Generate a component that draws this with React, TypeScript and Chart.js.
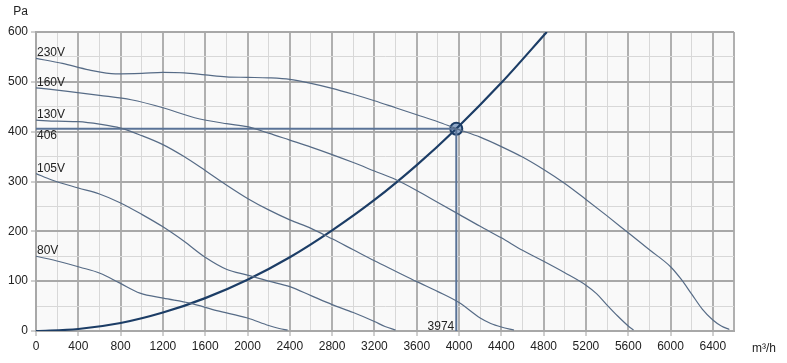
import { useEffect, useRef } from 'react';
import { Chart, registerables } from 'chart.js';

Chart.register(...registerables);

// ---- data ----
const flowTicks = [0, 400, 800, 1200, 1600, 2000, 2400, 2800, 3200, 3600, 4000, 4400, 4800, 5200, 5600, 6000, 6400];
const pressureTicks = [0, 100, 200, 300, 400, 500, 600];

const curveNames = ['230V', '160V', '130V', '105V', '80V'];

const q230 = [0, 250, 500, 750, 1000, 1200, 1400, 1600, 1800, 2000, 2200, 2400, 2600, 2800, 3000, 3200, 3400, 3600, 3800, 3974, 4200, 4400, 4600, 4800, 5000, 5200, 5400, 5600, 5800, 6000, 6100, 6200, 6300, 6400, 6480, 6556];
const p230 = [547, 537, 524, 516, 517, 519, 518, 514, 510, 509, 508, 505, 497, 487, 475, 462, 448, 434, 420, 406, 389, 370, 349, 324, 296, 264, 231, 197, 163, 129, 104, 74, 44, 22, 10, 3];

const q160 = [0, 300, 600, 900, 1200, 1500, 1800, 2000, 2200, 2400, 2600, 2800, 3000, 3200, 3400, 3600, 3800, 4000, 4200, 4400, 4600, 4800, 5000, 5200, 5300, 5400, 5500, 5600, 5650];
const p160 = [488, 481, 473, 464, 448, 428, 416, 410, 397, 383, 369, 354, 338, 321, 304, 282, 258, 234, 210, 187, 162, 140, 117, 92, 75, 52, 30, 10, 2];

const q130 = [0, 200, 400, 600, 800, 1000, 1200, 1400, 1600, 1800, 2000, 2200, 2400, 2600, 2800, 3000, 3200, 3400, 3600, 3800, 4000, 4200, 4300, 4400, 4520];
const p130 = [423, 421, 420, 415, 407, 392, 374, 350, 322, 293, 266, 243, 223, 206, 185, 163, 141, 120, 99, 79, 57, 26, 15, 8, 2];

const q105 = [0, 150, 400, 600, 800, 1000, 1200, 1400, 1600, 1800, 2000, 2200, 2400, 2600, 2800, 3000, 3200, 3300, 3400];
const p105 = [316, 303, 287, 275, 257, 234, 209, 180, 148, 124, 112, 100, 89, 71, 53, 37, 19, 9, 2];

const q80 = [0, 227, 416, 605, 794, 983, 1204, 1456, 1709, 2000, 2200, 2300, 2380];
const p80 = [150, 139, 128, 116, 96, 76, 66, 56, 41, 26, 11, 5, 2];

const qSystem = [0, 400, 800, 1200, 1600, 2000, 2400, 2800, 3200, 3600, 3974, 4400, 4830];
const pSystem = [0, 4, 16, 37, 66, 103, 148, 202, 263, 333, 406, 498, 600];

const dutyFlow = 3974;
const dutyPressure = 406;

const FONT = '"Liberation Sans", Arial, sans-serif';

const toPts = (q: number[], p: number[]) => q.map((v, i) => ({ x: v, y: p[i] }));

export default function App() {
  const ref = useRef<HTMLCanvasElement | null>(null);

  useEffect(() => {
    if (!ref.current) return;
    const curves = [
      { name: curveNames[0], q: q230, p: p230 },
      { name: curveNames[1], q: q160, p: p160 },
      { name: curveNames[2], q: q130, p: p130 },
      { name: curveNames[3], q: q105, p: p105 },
      { name: curveNames[4], q: q80, p: p80 },
    ];
    const fanColor = '#566b86';
    const navy = '#1c3d66';
    const opColor = '#5a7397';

    const bgPlugin = {
      id: 'bg',
      beforeDraw(chart: any) {
        const { ctx, chartArea: a } = chart;
        ctx.save();
        ctx.fillStyle = '#f9f9f9';
        ctx.fillRect(a.left, a.top, a.right - a.left, a.bottom - a.top);
        ctx.restore();
      },
    };

    const labelPlugin = {
      id: 'labels',
      afterDatasetsDraw(chart: any) {
        const { ctx, scales } = chart;
        const x = scales.x;
        const y = scales.y;
        ctx.save();
        ctx.font = '12px ' + FONT;
        ctx.fillStyle = '#222';
        ctx.textBaseline = 'alphabetic';
        ctx.textAlign = 'left';
        const x0 = x.getPixelForValue(0) + 1;
        curves.forEach((c) => {
          ctx.fillText(c.name, x0, y.getPixelForValue(c.p[0]) - 2);
        });
        ctx.fillText(String(dutyPressure), x0, y.getPixelForValue(dutyPressure) + 10);
        ctx.textAlign = 'right';
        ctx.fillText(String(dutyFlow), x.getPixelForValue(dutyFlow) - 2, y.getPixelForValue(0) - 1);
        ctx.fillText('Pa', 28, 15);
        ctx.textAlign = 'left';
        ctx.fillText('m³/h', 752, 351.5);
        ctx.restore();
      },
    };

    const datasets: any[] = curves.map((c) => ({
      label: c.name,
      data: toPts(c.q, c.p),
      borderColor: fanColor,
      borderWidth: 1.2,
      pointRadius: 0,
      cubicInterpolationMode: 'monotone',
      fill: false,
    }));
    datasets.push({
      label: 'h',
      data: [{ x: 0, y: dutyPressure }, { x: dutyFlow, y: dutyPressure }],
      borderColor: opColor,
      borderWidth: 2,
      pointRadius: 0,
    });
    datasets.push({
      label: 'v',
      data: [{ x: dutyFlow, y: 0 }, { x: dutyFlow, y: dutyPressure }],
      borderColor: opColor,
      borderWidth: 2,
      pointRadius: 0,
    });
    datasets.push({
      label: 'system',
      data: toPts(qSystem, pSystem),
      borderColor: navy,
      borderWidth: 2.2,
      pointRadius: 0,
      cubicInterpolationMode: 'monotone',
    });
    datasets.push({
      label: 'duty',
      data: [{ x: dutyFlow, y: dutyPressure }],
      showLine: false,
      pointRadius: 6,
      pointBorderWidth: 2,
      pointBorderColor: navy,
      pointBackgroundColor: '#8fa8c8',
    });
    datasets.push({
      label: 'duty-inner',
      data: [{ x: dutyFlow, y: dutyPressure }],
      showLine: false,
      pointRadius: 3.5,
      pointBorderWidth: 0,
      pointBackgroundColor: navy,
    });

    const xMajor = (v: number) => flowTicks.includes(v);
    const yMajor = (v: number) => pressureTicks.includes(v);

    const chart = new Chart(ref.current, {
      type: 'line',
      data: { datasets },
      plugins: [bgPlugin, labelPlugin],
      options: {
        animation: false,
        responsive: false,
        events: [],
        layout: { padding: { top: 32, right: 53, left: 0, bottom: 0 } },
        plugins: { legend: { display: false }, tooltip: { enabled: false } },
        scales: {
          x: {
            type: 'linear',
            min: 0,
            max: 6600,
            afterFit: (s: any) => { s.height = 32; },
            afterBuildTicks: (s: any) => {
              const t = [];
              for (let v = 0; v <= 6600; v += 200) t.push({ value: v });
              s.ticks = t;
            },
            ticks: {
              autoSkip: false,
              maxRotation: 0,
              padding: 3,
              color: '#222',
              font: { family: FONT, size: 12 },
              callback: (v: any) => (xMajor(Number(v)) ? String(v) : ''),
            },
            grid: {
              color: (c: any) => (c.tick && (xMajor(c.tick.value) || c.tick.value === 6600) ? '#b0b0b0' : '#d8d8d8'),
              lineWidth: (c: any) => (c.tick && (xMajor(c.tick.value) || c.tick.value === 6600) ? 2 : 1),
              tickColor: (c: any) => (c.tick && xMajor(c.tick.value) ? '#a0a0a0' : 'rgba(0,0,0,0)'),
              tickLength: 5,
              tickWidth: 1,
            },
            border: { color: '#a8a8a8', width: 2 },
          },
          y: {
            type: 'linear',
            min: 0,
            max: 600,
            afterFit: (s: any) => { s.width = 36; },
            afterBuildTicks: (s: any) => {
              const t = [];
              for (let v = 0; v <= 600; v += 50) t.push({ value: v });
              s.ticks = t;
            },
            ticks: {
              autoSkip: false,
              padding: 3,
              color: '#222',
              font: { family: FONT, size: 12 },
              callback: (v: any) => (yMajor(Number(v)) ? String(v) : ''),
            },
            grid: {
              color: (c: any) => (c.tick && yMajor(c.tick.value) ? '#a8a8a8' : '#d8d8d8'),
              lineWidth: (c: any) => (c.tick && yMajor(c.tick.value) ? 2 : 1),
              tickColor: (c: any) => (c.tick && yMajor(c.tick.value) ? '#a0a0a0' : 'rgba(0,0,0,0)'),
              tickLength: 5,
              tickWidth: 1,
            },
            border: { color: '#a8a8a8', width: 2 },
          },
        },
      } as any,
    });
    return () => chart.destroy();
  }, []);

  return (
    <div style={{ position: 'absolute', left: 0, top: 0, width: 787, height: 363, background: '#fff' }}>
      <canvas ref={ref} width={787} height={363} style={{ display: 'block', width: 787, height: 363 }} />
    </div>
  );
}
